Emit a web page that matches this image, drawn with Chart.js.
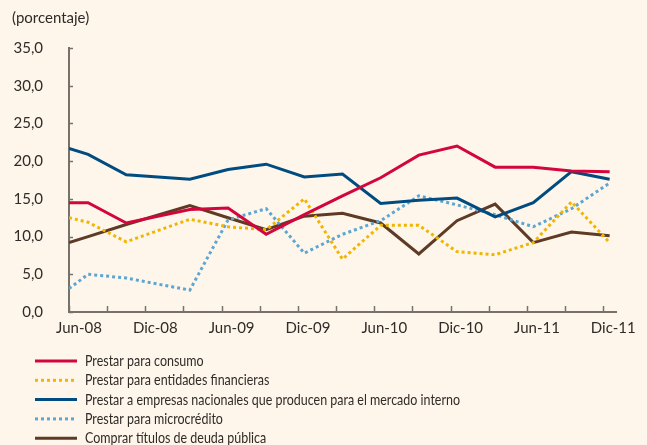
<!DOCTYPE html>
<html>
<head>
<meta charset="utf-8">
<script src="https://cdn.jsdelivr.net/npm/chart.js@4.4.1/dist/chart.umd.min.js"></script>
<style>
    body { margin: 0; background: #fef6ea; }
    canvas { display: block; }
</style>
</head>
<body>
<canvas id="grafico" width="647" height="445"></canvas>
<script>
// fechas de cada encuesta
const fechas = ['2008-06-01', '2008-07-16', '2008-10-16', '2009-03-16', '2009-06-16', '2009-09-16', '2009-12-16',
    '2010-03-16', '2010-06-16', '2010-09-16', '2010-12-16', '2011-03-16', '2011-06-16', '2011-09-16', '2011-12-16'];

const etiquetasX = ['Jun-08', 'Dic-08', 'Jun-09', 'Dic-09', 'Jun-10', 'Dic-10', 'Jun-11', 'Dic-11'];

const consumo = [14.5, 14.5, 11.8, 13.6, 13.8, 10.3, 12.9, 15.4, 17.8, 20.8, 22.0, 19.2, 19.2, 18.7, 18.6];
const entidadesFinancieras = [12.5, 11.9, 9.3, 12.3, 11.3, 10.9, 15.0, 7.0, 11.5, 11.5, 8.0, 7.6, 9.2, 14.6, 9.2];
const empresasNacionales = [21.7, 20.9, 18.2, 17.6, 18.9, 19.6, 17.9, 18.3, 14.4, 14.8, 15.1, 12.6, 14.5, 18.6, 17.6];
const microcredito = [3.1, 5.0, 4.5, 2.9, 12.2, 13.7, 7.8, 10.3, 12.1, 15.4, 14.2, 12.9, 11.3, 13.7, 17.1];
const deudaPublica = [9.2, 10.0, 11.6, 14.1, 12.5, 10.9, 12.7, 13.1, 11.8, 7.7, 12.1, 14.3, 9.2, 10.6, 10.1];

const colorEje = '#77716b';
const colorTexto = '#2f2b28';
const fuente = 'Lato, "Noto Sans", sans-serif';

// meses transcurridos desde junio de 2008
function mesIndice(fecha) {
    const [a, m, d] = fecha.split('-').map(Number);
    return (a - 2008) * 12 + (m - 6) + (d - 1) / 30;
}

function serie(label, valores, color, punteada) {
    return {
        label: label,
        data: valores.map((v, i) => ({x: mesIndice(fechas[i]), y: v})),
        borderColor: color,
        borderWidth: 3,
        borderDash: punteada ? [3, 3] : [],
        borderCapStyle: 'butt',
        pointRadius: 0,
        tension: 0,
        fill: false
    };
}

// marcas hacia adentro, titulo y leyenda vertical
const extras = {
    id: 'extras',
    afterDraw(chart) {
        const ctx = chart.ctx;
        const x = chart.scales.x;
        const y = chart.scales.y;
        const area = chart.chartArea;
        ctx.save();
        ctx.strokeStyle = colorEje;
        ctx.lineWidth = 1.5;
        x.ticks.forEach(t => {
            const px = Math.round(x.getPixelForValue(t.value)) + 0.5;
            ctx.beginPath();
            ctx.moveTo(px, area.bottom);
            ctx.lineTo(px, area.bottom - 6);
            ctx.stroke();
        });
        y.ticks.forEach(t => {
            const py = Math.round(y.getPixelForValue(t.value)) + 0.5;
            ctx.beginPath();
            ctx.moveTo(area.left, py);
            ctx.lineTo(area.left + 4, py);
            ctx.stroke();
        });

        ctx.fillStyle = colorTexto;
        ctx.textBaseline = 'middle';
        ctx.font = '15px ' + fuente;
        ctx.fillText('(porcentaje)', 12, 18);

        // el texto original es condensado: se comprime a lo ancho
        ctx.font = '16px ' + fuente;
        const largo = Math.max(...chart.data.datasets.map(ds => ctx.measureText(ds.label).width));
        const escala = 375 / largo;
        chart.data.datasets.forEach((ds, i) => {
            const ly = 361 + i * 19.3;
            ctx.strokeStyle = ds.borderColor;
            ctx.lineWidth = 3;
            ctx.setLineDash(ds.borderDash);
            ctx.beginPath();
            ctx.moveTo(35, ly);
            ctx.lineTo(77, ly);
            ctx.stroke();
            ctx.setLineDash([]);
            ctx.save();
            ctx.translate(85, ly);
            ctx.scale(escala, 1);
            ctx.fillText(ds.label, 0, 0);
            ctx.restore();
        });
        ctx.restore();
    }
};

new Chart(document.getElementById('grafico'), {
    type: 'line',
    data: {
        datasets: [
            serie('Prestar para consumo', consumo, '#d2063d', false),
            serie('Prestar para entidades financieras', entidadesFinancieras, '#f1b500', true),
            serie('Prestar a empresas nacionales que producen para el mercado interno', empresasNacionales, '#004b80', false),
            serie('Prestar para microcrédito', microcredito, '#5ea6d2', true),
            serie('Comprar títulos de deuda pública', deudaPublica, '#5e3b24', false)
        ]
    },
    options: {
        responsive: false,
        animation: false,
        devicePixelRatio: 1,
        layout: {padding: {top: 48, right: 31, bottom: 103, left: 0}},
        plugins: {legend: {display: false}, tooltip: {enabled: false}},
        scales: {
            x: {
                type: 'linear',
                min: 0,
                max: 43,
                grid: {display: false, drawTicks: false},
                border: {color: colorEje, width: 2},
                ticks: {
                    stepSize: 3,
                    includeBounds: false,
                    autoSkip: false,
                    maxRotation: 0,
                    padding: 7,
                    labelOffset: 10,
                    color: colorTexto,
                    font: {family: fuente, size: 15},
                    callback: v => v % 6 === 0 ? etiquetasX[v / 6] : ''
                },
                afterFit: s => { s.height = 30; }
            },
            y: {
                min: 0,
                max: 35,
                grid: {display: false, drawTicks: false},
                border: {color: colorEje, width: 2},
                ticks: {
                    stepSize: 5,
                    padding: 26,
                    color: colorTexto,
                    font: {family: fuente, size: 15},
                    callback: v => v.toFixed(1).replace('.', ',')
                },
                afterFit: s => { s.width = 69; }
            }
        }
    },
    plugins: [extras]
});
</script>
</body>
</html>
